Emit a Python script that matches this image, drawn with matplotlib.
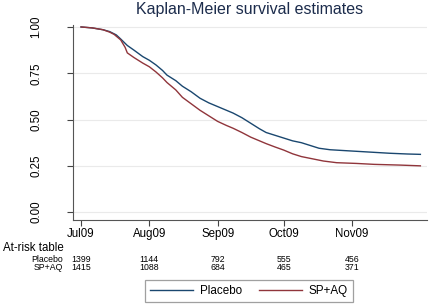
import matplotlib
matplotlib.use('Agg')
import matplotlib.pyplot as plt
import matplotlib.transforms as mtransforms

plt.rcParams['font.family'] = ['Liberation Sans', 'DejaVu Sans']

# days since 1 Jul 2009 and survival estimates
placebo_days = [0, 5, 10, 13, 16, 18, 21, 24, 28, 31, 34, 37, 39, 43, 46, 50, 54, 58,
                62, 66, 69, 73, 77, 81, 84, 88, 92, 96, 100, 104, 108, 113, 120, 130,
                140, 148, 154]
placebo_surv = [1.00, 0.995, 0.985, 0.975, 0.957, 0.935, 0.90, 0.875, 0.84, 0.82, 0.795,
                0.765, 0.74, 0.71, 0.68, 0.65, 0.615, 0.59, 0.57, 0.55, 0.535, 0.51, 0.48,
                0.45, 0.43, 0.415, 0.40, 0.385, 0.375, 0.36, 0.345, 0.337, 0.332, 0.325,
                0.318, 0.314, 0.312]

spaq_days = [0, 5, 10, 13, 15, 18, 20, 21, 24, 28, 31, 34, 37, 39, 43, 46, 50, 54, 58,
             62, 66, 69, 73, 77, 81, 84, 88, 92, 96, 100, 105, 110, 116, 125, 133, 145, 154]
spaq_surv = [1.00, 0.995, 0.985, 0.972, 0.96, 0.93, 0.89, 0.86, 0.835, 0.805, 0.785,
             0.757, 0.725, 0.70, 0.66, 0.62, 0.585, 0.55, 0.52, 0.49, 0.468, 0.453, 0.43,
             0.405, 0.385, 0.37, 0.352, 0.335, 0.315, 0.30, 0.288, 0.276, 0.267, 0.263,
             0.258, 0.254, 0.25]

tick_days = [0, 31, 62, 92, 123]
tick_labels = ['Jul09', 'Aug09', 'Sep09', 'Oct09', 'Nov09']
risk_placebo = [1399, 1144, 792, 555, 456]
risk_spaq = [1415, 1088, 684, 465, 371]

navy = '#1a476f'
maroon = '#90353b'

fig = plt.figure(figsize=(4.3, 3.04), dpi=100)
ax = fig.add_axes([0.170, 0.276, 0.823, 0.642])

ax.plot(placebo_days, placebo_surv, color=navy, lw=1.0, label='Placebo')
ax.plot(spaq_days, spaq_surv, color=maroon, lw=1.0, label='SP+AQ')

ax.set_xlim(-3.6, 157)
ax.set_ylim(-0.043, 1.011)
ax.set_yticks([0, 0.25, 0.5, 0.75, 1.0])
ax.set_yticklabels(['0.00', '0.25', '0.50', '0.75', '1.00'], rotation=90, va='center')
ax.set_xticks(tick_days)
ax.set_xticklabels(tick_labels)
ax.tick_params(axis='y', length=4, pad=18, labelsize=8.3, color='#444444')
ax.tick_params(axis='x', length=4, pad=2, labelsize=8.3, color='#444444')
ax.grid(axis='y', color='#eaeaea', lw=0.8)
ax.set_axisbelow(True)
for s in ['top', 'right']:
    ax.spines[s].set_visible(False)
for s in ['left', 'bottom']:
    ax.spines[s].set_color('#555555')
    ax.spines[s].set_linewidth(0.8)

fig.text(0.581, 0.968, 'Kaplan-Meier survival estimates', ha='center', va='center',
         fontsize=11.5, color='#1c2c4c')

# at-risk table
trans = mtransforms.blended_transform_factory(ax.transData, fig.transFigure)
fig.text(3 / 430, 1 - 248 / 304, 'At-risk table', ha='left', va='center', fontsize=8.3)
fig.text(63 / 430, 1 - 259 / 304, 'Placebo', ha='right', va='center', fontsize=6.3)
fig.text(63 / 430, 1 - 268 / 304, 'SP+AQ', ha='right', va='center', fontsize=6.3)
for d, a, b in zip(tick_days, risk_placebo, risk_spaq):
    ax.text(d, 1 - 259 / 304, str(a), transform=trans, ha='center', va='center', fontsize=6.3)
    ax.text(d, 1 - 268 / 304, str(b), transform=trans, ha='center', va='center', fontsize=6.3)

leg = fig.legend(loc='center', bbox_to_anchor=(249 / 430, 1 - 291 / 304), ncol=2,
                 fontsize=8.4, frameon=True, fancybox=False, edgecolor='#888888',
                 handlelength=3.7, handletextpad=0.6, columnspacing=1.4,
                 borderpad=0.4)
leg.get_frame().set_linewidth(0.9)

fig.savefig('out.png', dpi=100)
